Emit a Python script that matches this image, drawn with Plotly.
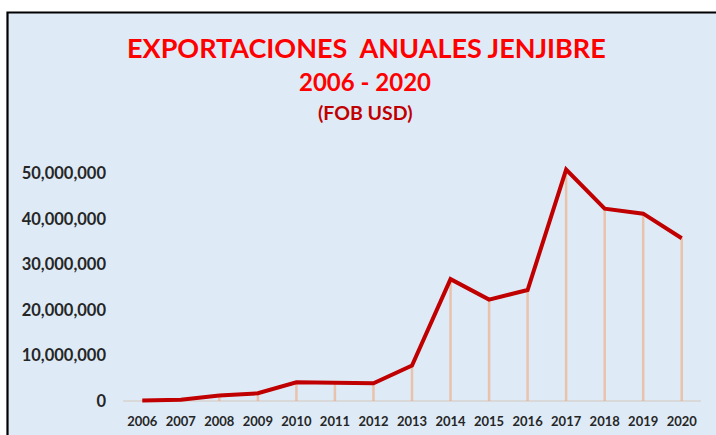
import plotly.graph_objects as go

years = ["2006", "2007", "2008", "2009", "2010", "2011", "2012", "2013",
         "2014", "2015", "2016", "2017", "2018", "2019", "2020"]
exports_usd = [100000, 250000, 1200000, 1700000, 4100000, 4100000, 3900000, 7800000,
               26800000, 22300000, 24400000, 50900000, 42300000, 41200000, 35800000]
y_ticks = [0, 10000000, 20000000, 30000000, 40000000, 50000000]

title_1 = "EXPORTACIONES&nbsp; ANUALES JENJIBRE"
title_2 = "2006 - 2020"
title_3 = "(FOB USD)"

W, H = 716, 435
L, R = 123, 701
T, B = 150, 405
pw, ph = R - L, B - T

def px(x):
    return (x - L) / pw

def py(y):
    return (B - y) / ph

fig = go.Figure()

# drop lines
fig.add_trace(go.Scatter(
    x=years, y=exports_usd, mode="markers",
    marker=dict(size=0.1, color="rgba(0,0,0,0)"),
    error_y=dict(type="data", symmetric=False, array=[0] * len(years),
                 arrayminus=exports_usd, width=0, thickness=2.5,
                 color="rgba(240,170,130,0.65)"),
    hoverinfo="skip", showlegend=False))

fig.add_trace(go.Scatter(
    x=years, y=exports_usd, mode="lines",
    line=dict(color="#C00000", width=4),
    showlegend=False))

fig.add_shape(type="rect", xref="paper", yref="paper",
              x0=px(7.5), x1=px(730), y0=py(450), y1=py(12.5),
              fillcolor="#DEEBF7", line=dict(color="black", width=2.2),
              layer="below")

fig.add_annotation(text=title_1, xref="paper", yref="paper", x=px(366), y=py(47.5),
                   showarrow=False, xanchor="center", yanchor="middle",
                   font=dict(family="Lato", size=27, color="#FF0000", weight="bold"))
fig.add_annotation(text=title_2, xref="paper", yref="paper", x=px(365), y=py(81),
                   showarrow=False, xanchor="center", yanchor="middle",
                   font=dict(family="Lato", size=24, color="#FF0000", weight="bold"))
fig.add_annotation(text=title_3, xref="paper", yref="paper", x=px(365), y=py(112),
                   showarrow=False, xanchor="center", yanchor="middle",
                   font=dict(family="Lato", size=19.5, color="#C00000", weight="bold"))

fig.update_layout(
    width=W, height=H,
    margin=dict(l=L, r=W - R, t=T, b=H - B),
    paper_bgcolor="white", plot_bgcolor="rgba(0,0,0,0)",
    showlegend=False,
)
fig.update_xaxes(type="category", range=[-0.5, len(years) - 0.5], automargin=False,
                 showgrid=False, showline=False, ticks="",
                 tickfont=dict(family="Lato", size=13, color="#262626", weight="bold"),
                 ticklabelstandoff=7)
fig.update_yaxes(range=[-880000, 55200000], tickvals=y_ticks, tickformat=",",
                 automargin=False,
                 showgrid=False, showline=False, ticks="",
                 zeroline=True, zerolinecolor="#D9D9D9", zerolinewidth=2,
                 tickfont=dict(family="Lato", size=16.5, color="#262626", weight="bold"),
                 ticklabelstandoff=16)

fig.write_html(
    "out.html",
    config={"displayModeBar": False},
    post_script=(
        "var gd=document.getElementById('{plot_id}');"
        "gd.style.position='absolute';gd.style.left='0px';gd.style.top='0px';"
        "document.body.style.margin='0';document.body.style.overflow='hidden';"
        "document.documentElement.style.overflow='hidden';"
    ),
)
